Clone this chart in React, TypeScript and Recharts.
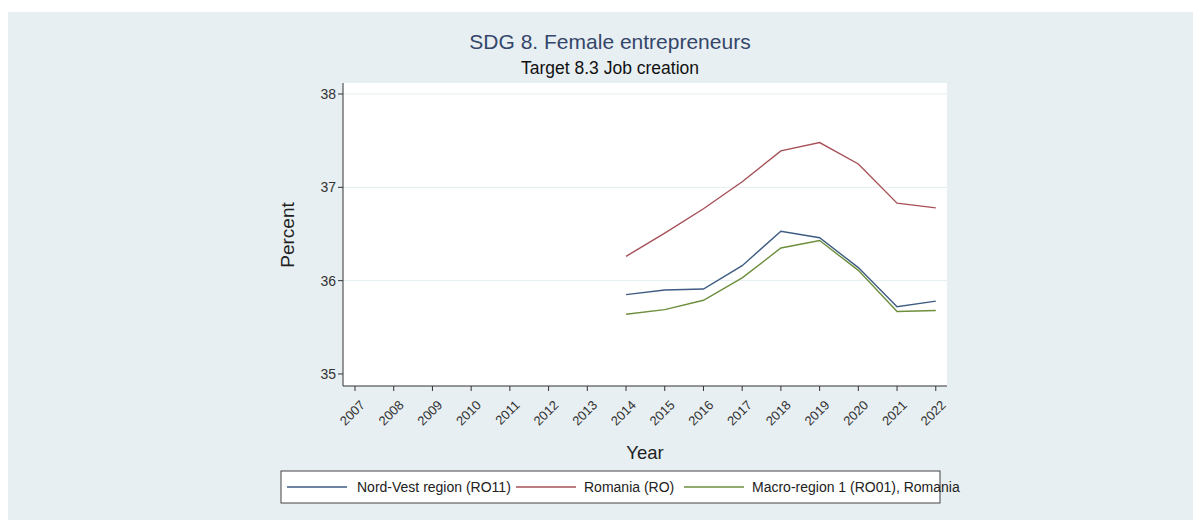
import React from "react";
import { LineChart, Line, XAxis, YAxis, CartesianGrid } from "recharts";

const years = [2014, 2015, 2016, 2017, 2018, 2019, 2020, 2021, 2022];
const nordVest = [35.85, 35.9, 35.91, 36.16, 36.53, 36.46, 36.14, 35.72, 35.78];
const romania = [36.26, 36.51, 36.77, 37.06, 37.39, 37.48, 37.25, 36.83, 36.78];
const macro = [35.64, 35.69, 35.79, 36.03, 36.35, 36.43, 36.11, 35.67, 35.68];
const xTicks = [2007, 2008, 2009, 2010, 2011, 2012, 2013, 2014, 2015, 2016, 2017, 2018, 2019, 2020, 2021, 2022];
const yTicks = [35, 36, 37, 38];

const seriesNames = ["Nord-Vest region (RO11)", "Romania (RO)", "Macro-region 1 (RO01), Romania"];
const seriesColors = ["#3e5c82", "#a65058", "#6d8e3c"];
const seriesKeys = ["nv", "ro", "mr"];

const data = years.map((y, i) => ({ year: y, nv: nordVest[i], ro: romania[i], mr: macro[i] }));

const FONT = "'Liberation Sans', Arial, Helvetica, sans-serif";
const W = 1193;
const H = 508;

const XTick = (props: any) => {
  const { x, y, payload } = props;
  const ty = y + 6;
  return (
    <text
      x={x + 4}
      y={ty}
      textAnchor="end"
      dominantBaseline="hanging"
      fontSize={13}
      fill="#333"
      fontFamily={FONT}
      transform={`rotate(-45 ${x + 4} ${ty})`}
    >
      {payload.value}
    </text>
  );
};

const legendEntries = [
  { lineX: 279, textX: 349 },
  { lineX: 508, textX: 576 },
  { lineX: 676, textX: 744 },
];

export default function App() {
  return (
    <div style={{ marginTop: 4, position: "relative", width: W, height: H, background: "#e8eff2", fontFamily: FONT }}>
      <LineChart
        width={W}
        height={H}
        data={data}
        margin={{ top: 71, right: 254, left: 275, bottom: 84 }}
      >
        <CartesianGrid
          vertical={false}
          horizontal={true}
          fill="#ffffff"
          stroke="#e6eef1"
          strokeWidth={1}
          horizontalValues={[36, 37, 38]}
        />
        <XAxis
          dataKey="year"
          type="number"
          domain={[2006.69, 2022.29]}
          ticks={xTicks}
          interval={0}
          height={50}
          tick={<XTick />}
          tickSize={5}
          axisLine={{ stroke: "#333", strokeWidth: 1 }}
          tickLine={{ stroke: "#333", strokeWidth: 1 }}
          allowDataOverflow
        />
        <YAxis
          type="number"
          domain={[34.871, 38.118]}
          ticks={yTicks}
          width={60}
          tickSize={5}
          tick={{ fontSize: 14, fill: "#333", fontFamily: FONT }}
          axisLine={{ stroke: "#333", strokeWidth: 1 }}
          tickLine={{ stroke: "#333", strokeWidth: 1 }}
          allowDataOverflow
        />
        {seriesKeys.map((k, i) => (
          <Line
            key={k}
            dataKey={k}
            name={seriesNames[i]}
            stroke={seriesColors[i]}
            strokeWidth={1.4}
            dot={false}
            activeDot={false}
            type="linear"
            isAnimationActive={false}
          />
        ))}
      </LineChart>
      <svg
        width={W}
        height={H}
        style={{ position: "absolute", left: 0, top: 0, pointerEvents: "none", overflow: "visible" }}
      >
        <text x={602} y={37} textAnchor="middle" fontSize={21} fill="#34466a" fontFamily={FONT}>
          SDG 8. Female entrepreneurs
        </text>
        <text x={602} y={62} textAnchor="middle" fontSize={17.5} fill="#111" fontFamily={FONT}>
          Target 8.3 Job creation
        </text>
        <text
          x={279}
          y={223}
          textAnchor="middle"
          dominantBaseline="central"
          fontSize={19}
          fill="#222"
          fontFamily={FONT}
          transform="rotate(-90 279 223)"
        >
          Percent
        </text>
        <text x={637} y={440} textAnchor="middle" dominantBaseline="central" fontSize={18.5} fill="#222" fontFamily={FONT}>
          Year
        </text>
        <rect x={273} y={459} width={659} height={32} fill="#ffffff" stroke="#444" strokeWidth={1} />
        {legendEntries.map((e, i) => (
          <g key={i}>
            <line x1={e.lineX} x2={e.lineX + 60} y1={475} y2={475} stroke={seriesColors[i]} strokeWidth={1.4} />
            <text x={e.textX} y={475} dominantBaseline="central" fontSize={14} fill="#222" fontFamily={FONT}>
              {seriesNames[i]}
            </text>
          </g>
        ))}
      </svg>
    </div>
  );
}
